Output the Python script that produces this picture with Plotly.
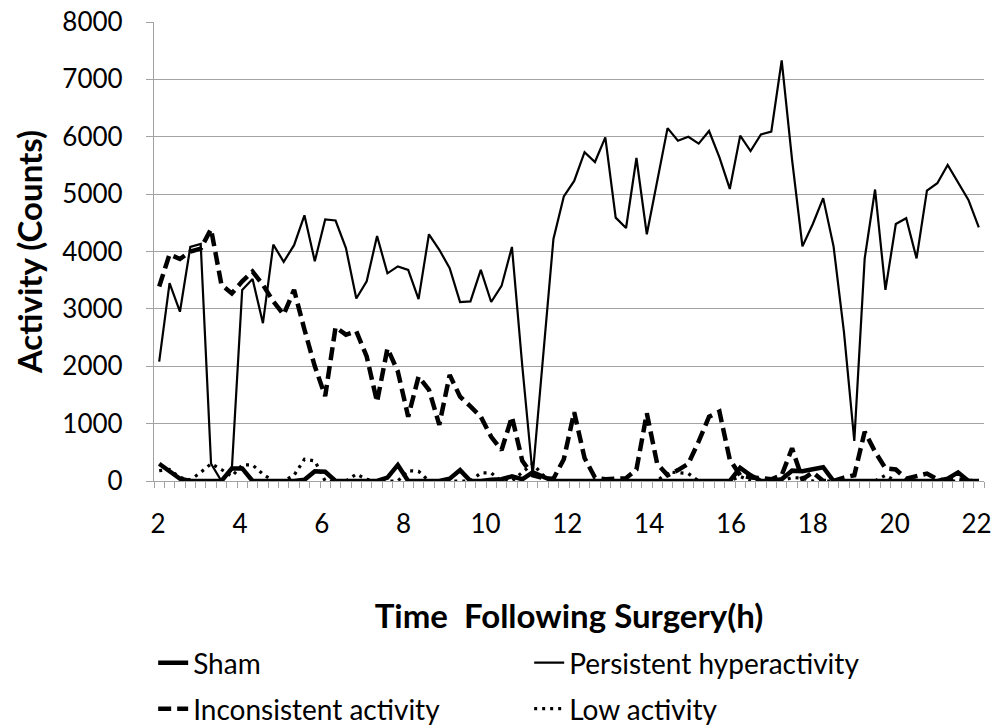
import plotly.graph_objects as go

# ---------------- data ----------------
tick_labels = ["2", "4", "6", "8", "10", "12", "14", "16", "18", "20", "22"]

sham = [300, 160, 40, 0, 0, 0, 0, 220, 220, 0,
        0, 0, 0, 0, 20, 170, 160, 0, 0, 0,
        0, 0, 60, 280, 0, 0, 0, 0, 40, 190,
        0, 0, 20, 30, 80, 30, 150, 80, 0, 0,
        0, 0, 0, 0, 0, 0, 0, 0, 0, 0,
        0, 0, 0, 0, 0, 0, 230, 100, 0, 0,
        30, 180, 170, 200, 240, 0, 0, 0, 0, 0,
        0, 0, 0, 0, 0, 0, 40, 150, 0, 0]

persistent = [2080, 3450, 2950, 4080, 4130, 300, 0, 200, 3330, 3520,
              2750, 4120, 3820, 4110, 4630, 3830, 4560, 4540, 4060, 3180,
              3480, 4270, 3620, 3740, 3680, 3170, 4300, 4030, 3710, 3120,
              3130, 3680, 3120, 3400, 4080, 2000, 100, 2100, 4220, 4960,
              5230, 5730, 5560, 5990, 4590, 4410, 5630, 4300, 5250, 6150,
              5930, 6000, 5880, 6100, 5640, 5090, 6020, 5750, 6040, 6090,
              7330, 5600, 4090, 4480, 4930, 4090, 2600, 700, 3880, 5080,
              3330, 4480, 4580, 3880, 5060, 5190, 5510, 5200, 4900, 4420]

inconsistent = [3390, 3950, 3870, 4000, 4050, 4390, 3420, 3270, 3480, 3650,
                3420, 3130, 2900, 3330, 2640, 2000, 1480, 2680, 2550, 2610,
                2170, 1380, 2310, 1910, 1120, 1820, 1590, 980, 1850, 1470,
                1300, 1120, 770, 540, 1120, 350, 100, 50, 40, 380,
                1200, 400, 60, 30, 40, 50, 200, 1180, 300, 100,
                190, 300, 690, 1120, 1210, 370, 100, 60, 50, 30,
                100, 570, 30, 150, 0, 0, 60, 100, 860, 510,
                220, 200, 40, 80, 130, 30, 0, 30, 0, 0]

low = [180, 200, 60, 20, 150, 300, 200, 80, 280, 280,
       120, 0, 0, 100, 380, 350, 0, 0, 0, 120,
       30, 0, 0, 0, 180, 170, 0, 0, 0, 0,
       0, 140, 140, 0, 0, 150, 300, 100, 0, 0,
       0, 0, 0, 0, 0, 0, 0, 0, 0, 160,
       140, 130, 0, 0, 0, 0, 80, 0, 0, 0,
       0, 60, 50, 0, 0, 0, 0, 0, 0, 0,
       100, 0, 0, 0, 0, 0, 0, 0, 0, 0]

sample_index = list(range(len(persistent)))
label_positions = [-0.1 + 7.888 * k for k in range(len(tick_labels))]

FONT = "Lato"
GRID = "#a3a3a3"

fig = go.Figure()
fig.add_trace(go.Scatter(x=sample_index, y=sham, mode="lines", name="Sham",
                         line=dict(color="black", width=4.5), legend="legend"))
fig.add_trace(go.Scatter(x=sample_index, y=persistent, mode="lines",
                         name="Persistent hyperactivity",
                         line=dict(color="black", width=2.2), legend="legend"))
fig.add_trace(go.Scatter(x=sample_index, y=inconsistent, mode="lines",
                         name="Inconsistent activity",
                         line=dict(color="black", width=4.5, dash="13px,6px"),
                         legend="legend2"))
fig.add_trace(go.Scatter(x=sample_index, y=low, mode="lines", name="Low activity",
                         line=dict(color="black", width=3.2, dash="3px,5px"),
                         legend="legend2"))

legend_common = dict(orientation="h", x=-0.001, xanchor="left", yanchor="middle",
                     entrywidth=331, entrywidthmode="pixels",
                     font=dict(size=28, family=FONT, color="black"),
                     bgcolor="rgba(0,0,0,0)")

fig.update_layout(
    width=999, height=725,
    margin=dict(l=154, r=15, t=22, b=244, autoexpand=False),
    paper_bgcolor="white", plot_bgcolor="white",
    font=dict(family=FONT, color="black"),
    xaxis=dict(
        range=[-0.5, len(persistent) - 0.5], automargin=False,
        tickmode="array", tickvals=label_positions, ticktext=tick_labels,
        ticks="", showgrid=False, zeroline=False,
        showline=True, linecolor=GRID, linewidth=1.3,
        tickfont=dict(size=26, family=FONT, color="black"),
        ticklabelstandoff=20,
        minor=dict(ticks="outside", ticklen=6, tickcolor=GRID, tickwidth=1,
                   tickmode="linear", tick0=-0.5, dtick=1, showgrid=False),
        title=dict(text="Time \u00a0Following Surgery(h)",
                   font=dict(size=33, family=FONT, weight="bold", color="black"),
                   standoff=66),
    ),
    yaxis=dict(
        range=[0, 8000], dtick=1000, tick0=0, automargin=False,
        showgrid=True, gridcolor=GRID, gridwidth=1.3, zeroline=False,
        showline=True, linecolor=GRID, linewidth=1.3,
        ticks="outside", ticklen=7, tickcolor=GRID, tickwidth=1.3,
        tickfont=dict(size=26, family=FONT, color="black"),
        ticklabelstandoff=18,
        title=dict(text="Activity (Counts)",
                   font=dict(size=33, family=FONT, weight="bold", color="black"),
                   standoff=9),
    ),
    legend=dict(legend_common, y=-0.3965),
    legend2=dict(legend_common, y=-0.4967),
)

fig.write_html("out.html")
